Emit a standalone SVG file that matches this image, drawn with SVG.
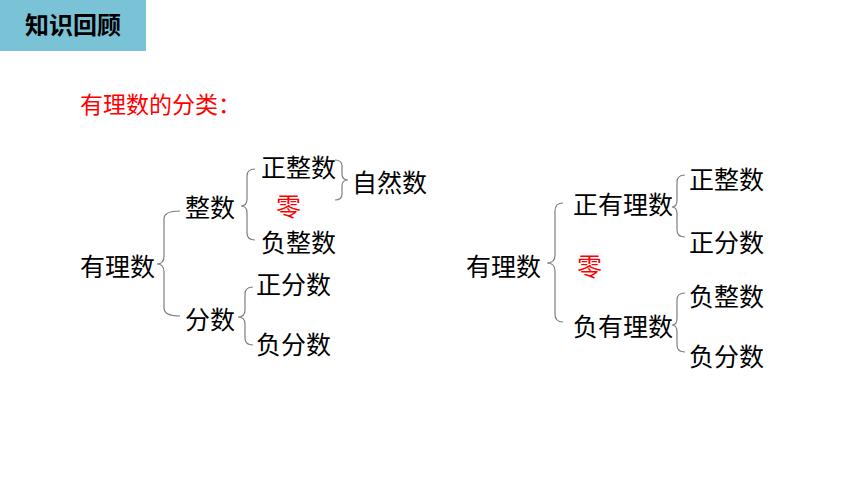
<svg xmlns="http://www.w3.org/2000/svg" width="860" height="484" viewBox="0 0 860 484">
<style>
text{font-family:"Noto Sans CJK SC","Microsoft YaHei",sans-serif;font-size:25px;fill:#000}
.red{fill:#FF0000}
.brace{fill:none;stroke:#7f7f7f;stroke-width:1.2}
</style>
<rect width="860" height="484" fill="#fff"/>
<g id="header">
<rect x="0" y="0" width="146" height="51" fill="#7AC3D6"/>
<text x="73" y="34" text-anchor="middle" style="font-weight:bold;font-size:24px">知识回顾</text>
</g>
<g id="title"><text class="red" x="80" y="113" style="font-size:23px">有理数的分类：</text></g>
<g id="connectors">
<path class="brace" d="M180,211 Q164,211 164,219 L164,256 Q164,264 157,264 Q164,264 164,272 L164,308 Q164,316 180,316"/>
<path class="brace" d="M255,169 Q247,169 247,176 L247,199 Q247,206 241,206 Q247,206 247,213 L247,233 Q247,240 255,240"/>
<path class="brace" d="M253,287 Q245,287 245,294 L245,310 Q245,317 238,317 Q245,317 245,324 L245,338 Q245,345 253,345"/>
<path class="brace" d="M335,160 Q342,160 342,166 L342,174 Q342,180 348,180 Q342,180 342,186 L342,194 Q342,200 335,200"/>
<path class="brace" d="M563,203 Q555,203 555,211 L555,255 Q555,263 547,263 Q555,263 555,271 L555,314 Q555,322 563,322"/>
<path class="brace" d="M685,175 Q677,175 677,182 L677,200 Q677,207 672,207 Q677,207 677,214 L677,230 Q677,237 685,237"/>
<path class="brace" d="M685,293 Q677,293 677,300 L677,318 Q677,325 672,325 Q677,325 677,332 L677,345 Q677,352 685,352"/>
</g>
<g id="L-rational"><text x="80" y="276">有理数</text></g>
<g id="L-integer"><text x="185" y="217">整数</text></g>
<g id="L-posint"><text x="261" y="177">正整数</text></g>
<g id="L-zero"><text class="red" x="276" y="216">零</text></g>
<g id="L-negint"><text x="261" y="252">负整数</text></g>
<g id="L-natural"><text x="352" y="192">自然数</text></g>
<g id="L-fraction"><text x="185" y="329">分数</text></g>
<g id="L-posfrac"><text x="256" y="294">正分数</text></g>
<g id="L-negfrac"><text x="256" y="354">负分数</text></g>
<g id="R-rational"><text x="466" y="276">有理数</text></g>
<g id="R-pos"><text x="573" y="214">正有理数</text></g>
<g id="R-zero"><text class="red" x="577" y="276">零</text></g>
<g id="R-neg"><text x="573" y="336">负有理数</text></g>
<g id="R-posint"><text x="689" y="189">正整数</text></g>
<g id="R-posfrac"><text x="689" y="252">正分数</text></g>
<g id="R-negint"><text x="689" y="306">负整数</text></g>
<g id="R-negfrac"><text x="689" y="366">负分数</text></g>
</svg>
